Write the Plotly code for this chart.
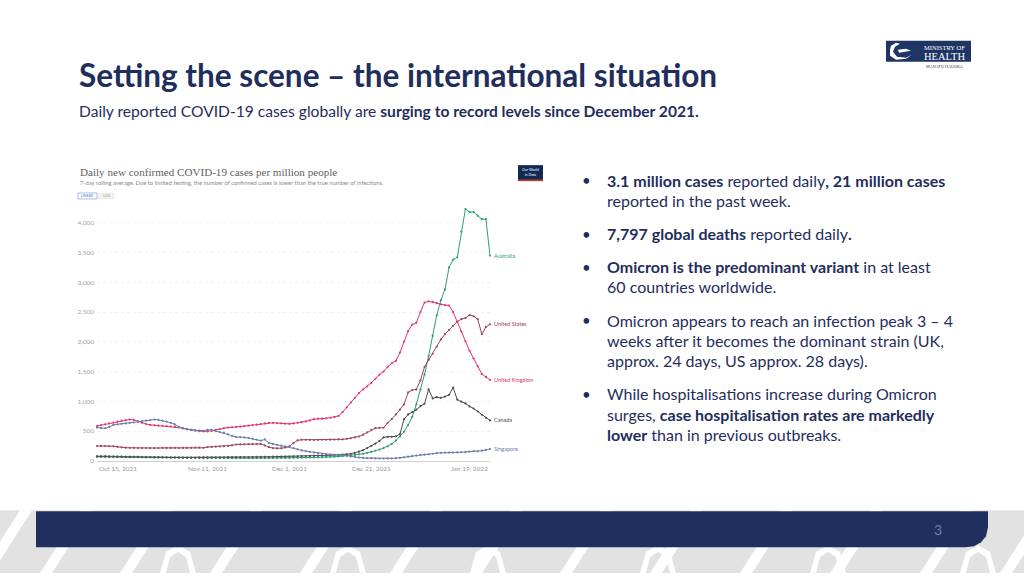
import plotly.graph_objects as go
import pandas as pd

# ---------------- data ----------------
dates = pd.date_range("2021-10-15", "2022-01-19", freq="D")

australia = [80,80,80,80,78,76,75,74,72,70,
             70,68,66,65,63,62,60,58,57,55,
             54,52,50,50,48,47,46,45,45,45,
             44,44,44,45,45,45,46,46,46,47,
             47,48,48,48,48,49,50,50,51,52,
             53,55,57,58,60,60,62,65,70,75,
             80,85,92,100,110,120,135,150,170,190,
             215,245,285,340,410,490,600,740,950,1200,
             1450,1760,2100,2450,2700,2880,3250,3380,3420,3850,
             4230,4180,4180,4120,4060,4060,3450]
united_states = [250,252,250,248,245,235,228,222,220,218,
                 216,215,215,214,215,216,218,218,218,217,
                 216,217,218,220,222,222,220,232,235,238,
                 242,245,250,262,275,278,278,280,282,283,
                 285,260,230,215,210,212,225,245,300,345,
                 355,355,352,350,352,355,355,356,358,360,
                 362,370,380,395,410,440,480,520,550,555,
                 557,640,700,780,860,950,1150,1190,1200,1350,
                 1580,1700,1800,1920,2040,2130,2200,2270,2340,2380,
                 2400,2450,2430,2380,2130,2250,2295]
united_kingdom = [585,600,615,630,645,660,675,685,695,690,
                  665,640,620,605,598,592,590,585,580,575,
                  565,550,535,520,510,500,495,495,505,520,
                  535,550,560,565,568,575,585,592,600,608,
                  620,630,640,640,635,630,625,622,630,640,
                  650,660,680,700,710,710,715,725,735,755,
                  820,900,980,1060,1140,1200,1250,1310,1380,1450,
                  1500,1580,1640,1680,1820,2000,2180,2290,2320,2500,
                  2660,2680,2670,2650,2630,2615,2610,2500,2330,2170,
                  2010,1850,1720,1590,1460,1410,1360]
canada = [70,70,70,68,67,66,65,64,63,62,
          62,61,60,60,59,58,58,57,57,57,
          56,56,56,57,57,58,58,59,60,60,
          61,61,62,62,63,63,64,65,65,66,
          67,68,69,70,71,72,73,74,76,78,
          80,82,84,86,88,90,92,95,98,100,
          105,112,120,135,155,180,215,250,290,335,
          395,405,405,410,450,700,780,820,860,920,
          960,1200,1050,1070,1060,1080,1110,1230,1030,995,
          965,915,880,830,775,725,680]
singapore = [560,550,548,570,605,615,622,630,638,645,
             655,668,675,685,695,690,675,660,640,615,
             570,545,530,520,515,510,505,520,520,500,
             485,470,445,420,400,400,395,385,370,355,
             340,360,300,285,270,255,245,235,215,195,
             175,165,150,140,130,120,112,108,105,103,
             100,90,75,65,55,50,48,45,42,40,
             40,41,42,45,50,60,70,80,90,100,
             105,110,120,130,135,140,140,140,142,145,
             148,155,165,160,172,185,200]

series_names = ["Australia", "United States", "United Kingdom", "Canada", "Singapore"]
series_values = [australia, united_states, united_kingdom, canada, singapore]
series_colors = ["#2f9e72", "#a0445e", "#e0386a", "#4d4d4d", "#6a7cab"]

y_ticks = [0, 500, 1000, 1500, 2000, 2500, 3000, 3500, 4000]
y_tick_text = ["0", "500", "1,000", "1,500", "2,000", "2,500", "3,000", "3,500", "4,000"]
x_tick_dates = ["2021-10-15", "2021-11-11", "2021-12-01", "2021-12-21", "2022-01-19"]
x_tick_text = ["Oct 15, 2021", "Nov 11, 2021", "Dec 1, 2021", "Dec 21, 2021", "Jan 19, 2022"]

W, H = 1024, 576
def X(px): return px / W
def Y(py): return 1 - py / H

NAVY = "#1f2e5c"

fig = go.Figure()
for name, vals, col in zip(series_names, series_values, series_colors):
    fig.add_trace(go.Scatter(x=dates, y=vals, mode="lines+markers", name=name,
                             line=dict(color=col, width=1),
                             marker=dict(color=col, size=2.2),
                             cliponaxis=False, showlegend=False, hoverinfo="skip"))

y_bottom_px, y_top_px = 463.3, 206.0
fig.update_layout(
    width=W, height=H, margin=dict(l=0, r=0, t=0, b=0),
    paper_bgcolor="white", plot_bgcolor="white",
    xaxis=dict(type="date", domain=[X(97), X(490)], range=["2021-10-15", "2022-01-19"],
               showgrid=False, zeroline=False, showticklabels=False,
               showline=True, linecolor="#cfcfcf", linewidth=1, fixedrange=True),
    yaxis=dict(domain=[Y(y_bottom_px), Y(y_top_px)], range=[0, 4300],
               tickvals=y_ticks, ticktext=y_tick_text,
               tickfont=dict(family="Lato", size=6.5, color="#a3a3a3"),
               showgrid=True, gridcolor="#f1f1f1", griddash="dot", gridwidth=1,
               zeroline=False, showline=False, ticks="", ticklabelstandoff=2, fixedrange=True),
)

ann = []
# x tick labels
for i, (d, t) in enumerate(zip(x_tick_dates, x_tick_text)):
    anchor = "left" if i == 0 else ("right" if i == len(x_tick_dates) - 1 else "center")
    ann.append(dict(x=d, y=Y(470.5), xref="x", yref="paper", text=t, showarrow=False,
                    xanchor=anchor, yanchor="middle",
                    font=dict(family="Lato", size=6.5, color="#9a9a9a")))
# end labels
for name, vals, col in zip(series_names, series_values, series_colors):
    ann.append(dict(x=dates[-1], y=vals[-1], xref="x", yref="y", text=name, showarrow=False,
                    xanchor="left", yanchor="middle", xshift=2,
                    font=dict(family="Lato", size=5.5, color=col)))

# chart header
ann.append(dict(x=X(78), y=Y(173), xref="paper", yref="paper", xanchor="left", yanchor="middle",
                text="Daily new confirmed COVID-19 cases per million people", showarrow=False,
                font=dict(family="Liberation Serif", size=11.1, color="#5e5e5e")))
ann.append(dict(x=X(78), y=Y(183.5), xref="paper", yref="paper", xanchor="left", yanchor="middle",
                text="7-day rolling average. Due to limited testing, the number of confirmed cases is lower than the true number of infections.",
                showarrow=False, font=dict(family="Lato", size=5.8, color="#8a8a8a")))
ann.append(dict(x=X(87.5), y=Y(197), xref="paper", yref="paper", xanchor="center", yanchor="middle",
                text="LINEAR", showarrow=False, font=dict(family="Lato", size=3.5, color="#4b79c4")))
ann.append(dict(x=X(106), y=Y(197), xref="paper", yref="paper", xanchor="center", yanchor="middle",
                text="LOG", showarrow=False, font=dict(family="Lato", size=3.5, color="#999999")))
ann.append(dict(x=X(530.5), y=Y(173), xref="paper", yref="paper", xanchor="center", yanchor="middle",
                text="Our World<br>in Data", showarrow=False,
                font=dict(family="Lato", size=3.6, color="white")))

# slide title & subtitle
ann.append(dict(x=X(77), y=Y(75), xref="paper", yref="paper", xanchor="left", yanchor="middle",
                text="<b>Setting the scene – the international situation</b>", showarrow=False,
                font=dict(family="Lato", size=31.5, color=NAVY)))
ann.append(dict(x=X(77), y=Y(112), xref="paper", yref="paper", xanchor="left", yanchor="middle",
                text="Daily reported COVID-19 cases globally are <b>surging to record levels since December 2021.</b>",
                showarrow=False, font=dict(family="Lato", size=15.6, color=NAVY)))

# bullets
bullets = [
    (181, ["<b>3.1 million cases</b> reported daily<b>, 21 million cases</b>", "reported in the past week."]),
    (235, ["<b>7,797 global deaths</b> reported daily<b>.</b>"]),
    (268, ["<b>Omicron is the predominant variant</b> in at least", "60 countries worldwide."]),
    (322, ["Omicron appears to reach an infection peak 3 – 4",
           "weeks after it becomes the dominant strain (UK,",
           "approx. 24 days, US approx. 28 days)."]),
    (396, ["While hospitalisations increase during Omicron",
           "surges, <b>case hospitalisation rates are markedly</b>",
           "<b>lower</b> than in previous outbreaks."]),
]
for y0, lines in bullets:
    ann.append(dict(x=X(580), y=Y(y0), xref="paper", yref="paper", xanchor="left", yanchor="middle",
                    text="•", showarrow=False, font=dict(family="Lato", size=15, color=NAVY)))
    for k, line in enumerate(lines):
        ann.append(dict(x=X(605), y=Y(y0 + k * 20.3), xref="paper", yref="paper",
                        xanchor="left", yanchor="middle", text=line, showarrow=False,
                        font=dict(family="Lato", size=16, color=NAVY)))

# logo text
ann.append(dict(x=X(944), y=Y(47.5), xref="paper", yref="paper", xanchor="center", yanchor="middle",
                text="MINISTRY OF", showarrow=False, font=dict(family="Liberation Serif", size=6.5, color="white")))
ann.append(dict(x=X(944), y=Y(56.5), xref="paper", yref="paper", xanchor="center", yanchor="middle",
                text="HEALTH", showarrow=False, font=dict(family="Liberation Serif", size=10.5, color="white")))
ann.append(dict(x=X(944), y=Y(66.5), xref="paper", yref="paper", xanchor="center", yanchor="middle",
                text="MANATŪ HAUORA", showarrow=False, font=dict(family="Liberation Serif", size=4.2, color="#333333")))
# page number
ann.append(dict(x=X(938), y=Y(532), xref="paper", yref="paper", xanchor="center", yanchor="middle",
                text="3", showarrow=False, font=dict(family="Lato", size=14, color="#6d7fa8")))

shapes = []
def rect(x0, y0, x1, y1, fill, line=None, lw=0, layer="below"):
    shapes.append(dict(type="rect", xref="paper", yref="paper", x0=X(x0), x1=X(x1), y0=Y(y1), y1=Y(y0),
                       fillcolor=fill, line=dict(color=line or fill, width=lw), layer=layer))
def path(pts, fill, line=None, lw=0, closed=True, layer="below"):
    d = "M " + " L ".join(f"{X(a):.5f},{Y(b):.5f}" for a, b in pts) + (" Z" if closed else "")
    shapes.append(dict(type="path", xref="paper", yref="paper", path=d,
                       fillcolor=fill if closed else None, line=dict(color=line or fill, width=lw), layer=layer))

# bottom patterned band
rect(0, 513, 1024, 576, "#e2e2e2")
stripe_x = [-20, 40, 120, 210, 300, 390, 470, 560, 650, 740, 830, 920, 1000]
for sx in stripe_x:
    path([(sx + 40, 513), (sx + 52, 513), (sx + 12, 576), (sx, 576)], "white")
for cx in [160, 330, 470, 640, 810, 960]:
    path([(cx, 576), (cx + 6, 555), (cx + 18, 548), (cx + 30, 555), (cx + 36, 576),
          (cx + 30, 576), (cx + 26, 560), (cx + 18, 555), (cx + 10, 560), (cx + 6, 576)], "white")
# navy footer bar with rounded bottom-right corner
bar_pts = [(36, 514), (988, 514), (988, 530), (986, 539), (981, 545), (974, 549), (965, 550), (36, 550)]
path(bar_pts, "#1f2f5e")

# buttons
rect(78, 194, 97, 200, "white", "#7fa3dd", 0.7)
rect(98, 194, 114, 200, "#f1f1f1", "#e6e6e6", 0.5)
# OWID logo
rect(518, 166, 543, 182, "#0f2a55")
rect(518, 180.3, 543, 182, "#c7312a")
# MoH logo
rect(886, 41, 971, 62, "#1f3566")
path([(891, 46), (896, 43), (900, 44), (895, 47), (893, 52), (897, 57), (906, 58), (912, 55),
      (906, 59), (896, 60), (890, 56), (890, 50)], "white")
path([(898, 50), (906, 49), (911, 51), (905, 52), (899, 53)], "white")

fig.update_layout(annotations=ann, shapes=shapes)
fig.write_html("out.html", config={"displayModeBar": False, "staticPlot": True})

# remove the browser's default body margin so the figure sits at (0,0)
with open("out.html", "r", encoding="utf-8") as f:
    html = f.read()
html = html.replace("<body>", '<body style="margin:0;padding:0;overflow:hidden">', 1)
with open("out.html", "w", encoding="utf-8") as f:
    f.write(html)
